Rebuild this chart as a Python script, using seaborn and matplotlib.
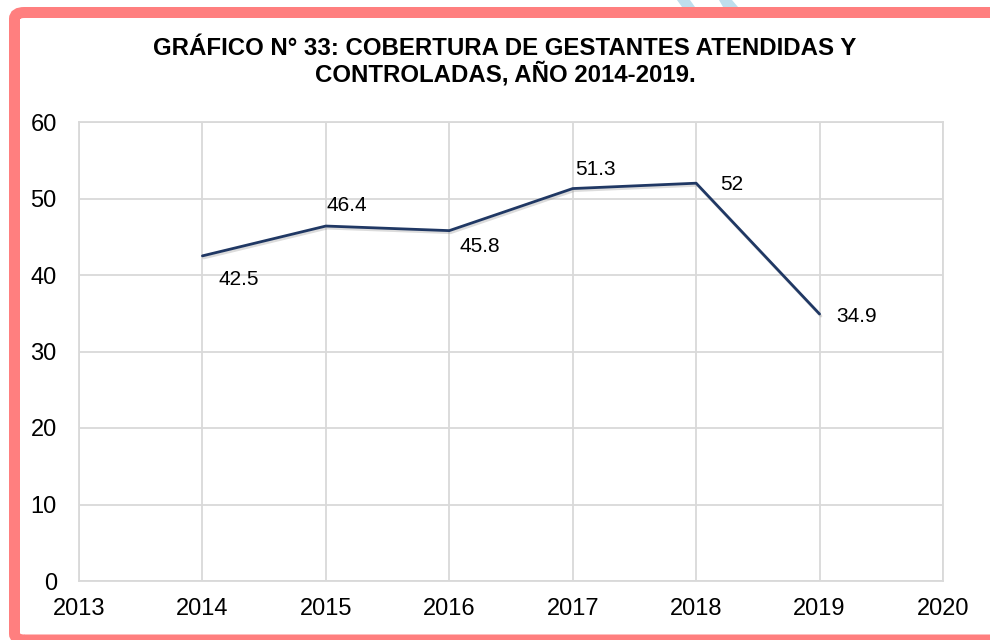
import matplotlib
matplotlib.use("Agg")
import matplotlib.pyplot as plt
import matplotlib.patheffects as pe
from matplotlib.patches import FancyBboxPatch, Polygon
import pandas as pd
import seaborn as sns

# Coverage of attended and controlled pregnant women, 2014-2019
years = [2014, 2015, 2016, 2017, 2018, 2019]
coverage = [42.5, 46.4, 45.8, 51.3, 52.0, 34.9]
value_labels = ["42.5", "46.4", "45.8", "51.3", "52", "34.9"]
x_ticks = [2013, 2014, 2015, 2016, 2017, 2018, 2019, 2020]
y_ticks = [0, 10, 20, 30, 40, 50, 60]
title = "GRÁFICO N° 33: COBERTURA DE GESTANTES ATENDIDAS Y\nCONTROLADAS, AÑO 2014-2019."

df = pd.DataFrame({"year": years, "coverage": coverage})

sns.set_theme(style="white")
plt.rcParams["font.family"] = ["Liberation Sans", "DejaVu Sans"]

W, H = 990, 640
fig = plt.figure(figsize=(W / 100, H / 100), dpi=100)
fig.patch.set_facecolor("white")

def fx(px):
    return px / W

def fy(py):
    return 1 - py / H

ax = fig.add_axes([fx(79), fy(581), fx(943) - fx(79), fy(122) - fy(581)])

sns.lineplot(data=df, x="year", y="coverage", ax=ax, color="#203864",
             linewidth=2.0, zorder=5,
             path_effects=[pe.SimpleLineShadow(offset=(1.0, -1.5), shadow_color="#8c8c8c", alpha=0.3),
                           pe.Normal()])

ax.set_xlim(2013, 2020)
ax.set_ylim(0, 60)
ax.set_xticks(x_ticks)
ax.set_yticks(y_ticks)
ax.set_xticklabels([str(t) for t in x_ticks])
ax.set_yticklabels([str(t) for t in y_ticks])
ax.set_xlabel("")
ax.set_ylabel("")
ax.grid(True, color="#d9d9d9", linewidth=1.3)
ax.set_axisbelow(True)
for s in ax.spines.values():
    s.set_color("#d9d9d9")
    s.set_linewidth(1.3)
ax.tick_params(axis="both", length=0, labelsize=17, colors="black")
ax.tick_params(axis="x", pad=12)
ax.tick_params(axis="y", pad=16)

# data labels positioned around each point (pixel offsets)
offsets = [(36, -24), (21, 21), (31, -16), (23, 19), (36, -1), (37, -2)]
for xv, yv, lab, off in zip(years, coverage, value_labels, offsets):
    ax.annotate(lab, (xv, yv), xytext=off, textcoords="offset pixels",
                ha="center", va="center", fontsize=15, color="black")

fig.text(fx(505), fy(61.5), title, ha="center", va="center", fontsize=17.3,
         fontweight="bold", color="black", linespacing=1.07)

# pink frame around the chart, running off the right edge
frame = FancyBboxPatch((fx(14.5), fy(640)), fx(1040) - fx(14.5), fy(12.5) - fy(640),
                       boxstyle="round,pad=0,rounding_size=0.01",
                       transform=fig.transFigure, facecolor="none",
                       edgecolor="#ff7f7f", linewidth=11 * 0.72, clip_on=False)
fig.patches.append(frame)

# light blue stripes peeking above the frame
for pts in ([(677, 0), (690, 0), (695, 7), (682, 7)],
            [(719, 0), (732, 0), (738, 7), (723, 7)]):
    fig.patches.append(Polygon([(fx(a), fy(b)) for a, b in pts], closed=True,
                               transform=fig.transFigure, facecolor="#bfdeed",
                               edgecolor="none"))

fig.savefig("out.png", dpi=100)
